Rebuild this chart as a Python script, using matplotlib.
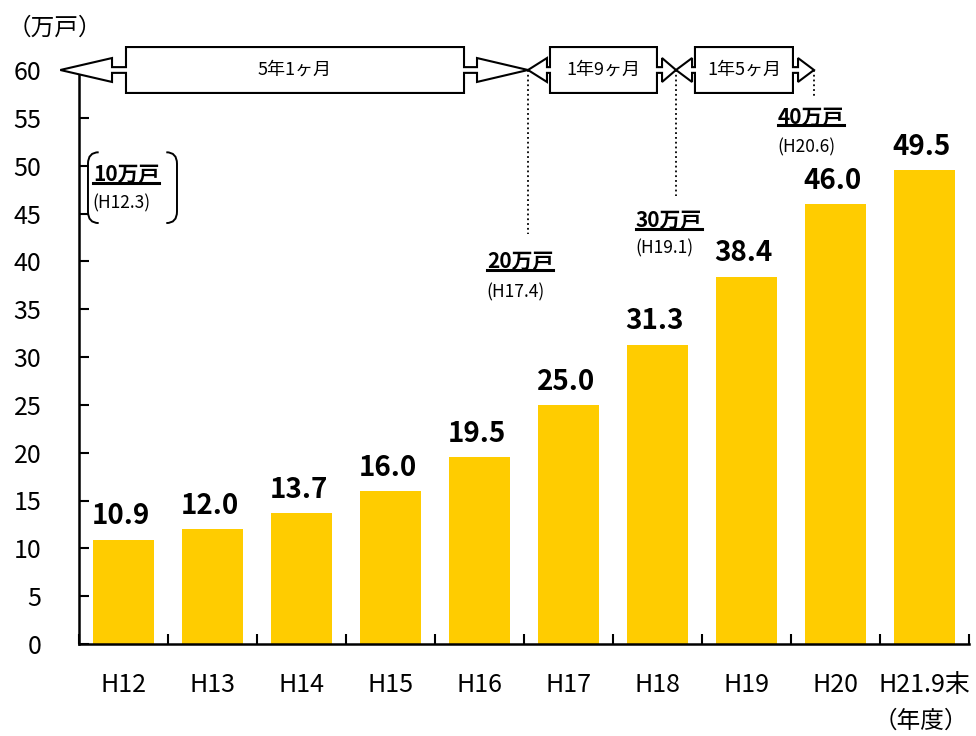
import matplotlib
matplotlib.use("Agg")
from matplotlib import pyplot as plt
from matplotlib.patches import Polygon, PathPatch
from matplotlib.path import Path
from matplotlib.lines import Line2D
import numpy as np

plt.rcParams['font.family'] = ['Noto Sans CJK JP', 'DejaVu Sans']

# data
years = ['H12', 'H13', 'H14', 'H15', 'H16', 'H17', 'H18', 'H19', 'H20', 'H21.9末']
households = [10.9, 12.0, 13.7, 16.0, 19.5, 25.0, 31.3, 38.4, 46.0, 49.5]

# milestones: label, date, x position of the date on the category axis
milestones = ['10万戸', '20万戸', '30万戸', '40万戸']
milestone_dates = ['(H12.3)', '(H17.4)', '(H19.1)', '(H20.6)']
milestone_x = [-0.71, 4.545, 6.208, 7.758]
spans = ['5年1ヶ月', '1年9ヶ月', '1年5ヶ月']

bar_color = '#FFCC00'

fig = plt.figure(figsize=(9.76, 7.36), dpi=100)
ax = fig.add_axes([79/976, 92/736, 890/976, 574/736])

x = np.arange(len(years))
ax.bar(x, households, width=0.68, color=bar_color, zorder=2)
for xi, v in zip(x, households):
    ax.annotate(f'{v:.1f}', (xi, v), xytext=(-2, 11), textcoords='offset points',
                ha='center', va='baseline', fontsize=20, fontweight='bold')

ax.set_xlim(-0.5, len(years) - 0.5)
ax.set_ylim(0, 60)
ax.set_yticks(np.arange(0, 61, 5))
ax.set_xticks(x)
ax.set_xticklabels(years)
ax.set_xticks(np.arange(-0.5, len(years)), minor=True)
ax.tick_params(axis='x', which='major', length=0, pad=20, labelsize=18)
ax.tick_params(axis='x', which='minor', direction='in', length=7, width=1.5)
ax.tick_params(axis='y', direction='in', length=7, width=1.5, pad=27, labelsize=18)
for s in ['top', 'right']:
    ax.spines[s].set_visible(False)
for s in ['left', 'bottom']:
    ax.spines[s].set_linewidth(1.8)

fig.text(8/976, 1 - 28/736, '（万戸）', fontsize=17, ha='left', va='center')
fig.text(968/976, 1 - 721/736, '（年度）', fontsize=17, ha='right', va='center')


def callout(tx0, hx0, bx0, bx1, hx1, tx1, yc=60.0, half_box=2.4, half_head=1.25, half_shaft=0.3):
    pts = [(tx0, yc), (hx0, yc + half_head), (hx0, yc + half_shaft), (bx0, yc + half_shaft),
           (bx0, yc + half_box), (bx1, yc + half_box), (bx1, yc + half_shaft), (hx1, yc + half_shaft),
           (hx1, yc + half_head), (tx1, yc), (hx1, yc - half_head), (hx1, yc - half_shaft),
           (bx1, yc - half_shaft), (bx1, yc - half_box), (bx0, yc - half_box), (bx0, yc - half_shaft),
           (hx0, yc - half_shaft), (hx0, yc - half_head)]
    p = Polygon(pts, closed=True, facecolor='white', edgecolor='black', lw=1.5,
                clip_on=False, zorder=6)
    ax.add_patch(p)
    return (bx0 + bx1) / 2


boxes = [(-0.129, 0.028, 3.826, 3.972), (4.758, 4.792, 5.994, 6.051), (6.388, 6.421, 7.522, 7.579)]
for i, (hx0, bx0, bx1, hx1) in enumerate(boxes):
    cx = callout(milestone_x[i], hx0, bx0, bx1, hx1, milestone_x[i + 1])
    ax.text(cx, 60, spans[i], ha='center', va='center', fontsize=13, zorder=7, clip_on=False)

# dotted drop lines from the arrow tips
for mx, yend in zip(milestone_x[1:], [42.9, 46.8, 57.2]):
    ax.plot([mx, mx], [60, yend], ls=':', color='black', lw=1.3, clip_on=False, zorder=5)

# milestone labels
label_pos = [(-0.343, 49.1, 46.1), (4.084, 40.0, 36.8), (5.758, 44.3, 41.4), (7.354, 55.1, 51.9)]
bold_texts = []
for (lx, ly, dy), name, date in zip(label_pos, milestones, milestone_dates):
    t = ax.text(lx, ly, name, ha='left', va='center', fontsize=15, fontweight='bold', zorder=7)
    bold_texts.append(t)
    ax.text(lx - 0.01, dy, date, ha='left', va='center', fontsize=12.5, zorder=7)

# bracket around the first milestone label
bx0, bx1, by0, by1 = -0.399, 0.601, 44.0, 51.4
dx, dy = 0.12, 1.2
left = Path([(bx0 + dx, by1), (bx0, by1), (bx0, by1 - dy), (bx0, by0 + dy), (bx0, by0), (bx0 + dx, by0)],
            [Path.MOVETO, Path.CURVE3, Path.CURVE3, Path.LINETO, Path.CURVE3, Path.CURVE3])
right = Path([(bx1 - dx, by1), (bx1, by1), (bx1, by1 - dy), (bx1, by0 + dy), (bx1, by0), (bx1 - dx, by0)],
             [Path.MOVETO, Path.CURVE3, Path.CURVE3, Path.LINETO, Path.CURVE3, Path.CURVE3])
for pth in (left, right):
    ax.add_patch(PathPatch(pth, facecolor='none', edgecolor='black', lw=1.4, clip_on=False, zorder=6))

# underline the bold milestone labels
fig.canvas.draw()
inv = fig.transFigure.inverted()
for t in bold_texts:
    bb = t.get_window_extent()
    (x0, y0), (x1, _) = inv.transform([[bb.x0, bb.y0 + 2], [bb.x1, bb.y0 + 2]])
    fig.add_artist(Line2D([x0, x1], [y0, y0], color='black', lw=2.2))

fig.savefig('out.png', dpi=100)
